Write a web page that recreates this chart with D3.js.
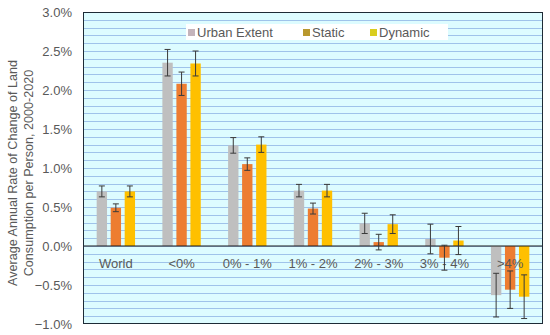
<!DOCTYPE html>
<html>
<head>
<meta charset="utf-8">
<script src="https://d3js.org/d3.v7.min.js"></script>
<style>
  body { margin: 0; background: #fff; }
  text { font-family: "Liberation Sans", Arial, sans-serif; fill: #595959; }
</style>
</head>
<body>
<script>
// data
var categories = ["World", "<0%", "0% - 1%", "1% - 2%", "2% - 3%", "3% - 4%", ">4%"];
var seriesNames = ["Urban Extent", "Static", "Dynamic"];
var urbanExtent = [0.70, 2.35, 1.29, 0.71, 0.29, 0.09, -0.63];
var urbanErr = [0.07, 0.17, 0.10, 0.08, 0.13, 0.19, 0.28];
var staticVals = [0.49, 2.08, 1.05, 0.48, 0.05, -0.15, -0.56];
var staticErr = [0.05, 0.15, 0.08, 0.07, 0.10, 0.16, 0.24];
var dynamicVals = [0.70, 2.34, 1.30, 0.71, 0.28, 0.07, -0.65];
var dynamicErr = [0.07, 0.16, 0.10, 0.08, 0.12, 0.18, 0.28];
var yTicks = [-1.0, -0.5, 0, 0.5, 1.0, 1.5, 2.0, 2.5, 3.0];

var barColors = ["#bfbfbf", "#ed7d31", "#ffc000"];
var swatchColors = ["#c4b4bb", "#b8982e", "#d9cd1e"];

var width = 550, height = 335;
var margin = {left: 83, right: 7, top: 12, bottom: 11};

var svg = d3.select("body").append("svg")
    .attr("width", width)
    .attr("height", height);

var x0 = d3.scaleBand()
    .domain(categories)
    .range([margin.left, width - margin.right])
    .padding(0);

var groupW = x0.bandwidth() * 0.584;
var x1 = d3.scaleBand()
    .domain(seriesNames)
    .range([0, groupW])
    .paddingInner(0.26);

var y = d3.scaleLinear()
    .domain([-1, 3])
    .range([height - margin.bottom, margin.top]);

// plot background
svg.append("rect")
    .attr("x", margin.left)
    .attr("y", margin.top)
    .attr("width", width - margin.left - margin.right)
    .attr("height", y(-1) - y(3))
    .attr("fill", "#ddfcff");

// minor gridlines every 0.1%
var grid = d3.range(-9, 30).map(function(d) { return d / 10; });
svg.append("g").selectAll("line")
    .data(grid)
    .enter().append("line")
    .attr("x1", margin.left)
    .attr("x2", width - margin.right)
    .attr("y1", function(d) { return Math.round(y(d)) + 0.5; })
    .attr("y2", function(d) { return Math.round(y(d)) + 0.5; })
    .attr("stroke", "#9fc3ea")
    .attr("stroke-width", 1);

// y axis labels
var yAxis = d3.axisLeft(y)
    .tickValues(yTicks)
    .tickSize(0)
    .tickPadding(11)
    .tickFormat(function(d) { return d3.format(".1f")(d) + "%"; });

svg.append("g")
    .attr("transform", "translate(" + margin.left + ",0)")
    .call(yAxis)
    .call(function(g) { g.select(".domain").remove(); })
    .selectAll("text")
    .style("font-size", "13px")
    .style("fill", "#595959");

// bars
var series = [
  {name: seriesNames[0], vals: urbanExtent, err: urbanErr},
  {name: seriesNames[1], vals: staticVals, err: staticErr},
  {name: seriesNames[2], vals: dynamicVals, err: dynamicErr}
];

var rows = [];
series.forEach(function(s, si) {
  categories.forEach(function(c, ci) {
    rows.push({cat: c, name: s.name, si: si, v: s.vals[ci], e: s.err[ci]});
  });
});

function bx(d) {
  return x0(d.cat) + (x0.bandwidth() - groupW) / 2 + x1(d.name);
}

svg.append("g").selectAll("rect")
    .data(rows)
    .enter().append("rect")
    .attr("x", bx)
    .attr("width", x1.bandwidth())
    .attr("y", function(d) { return y(Math.max(0, d.v)); })
    .attr("height", function(d) { return Math.abs(y(d.v) - y(0)); })
    .attr("fill", function(d) { return barColors[d.si]; });

// zero line
svg.append("line")
    .attr("x1", margin.left)
    .attr("x2", width - margin.right)
    .attr("y1", y(0))
    .attr("y2", y(0))
    .attr("stroke", "#1a1a1a")
    .attr("stroke-width", 1.2);

// category labels
svg.append("g").selectAll("text")
    .data(categories)
    .enter().append("text")
    .attr("x", function(d) { return x0(d) + x0.bandwidth() / 2; })
    .attr("y", y(0) + 22)
    .attr("text-anchor", "middle")
    .style("font-size", "13px")
    .text(function(d) { return d; });

// error bars
var eb = svg.append("g").selectAll("g")
    .data(rows)
    .enter().append("g")
    .attr("stroke", "#3a3a3a")
    .attr("stroke-width", 1);

eb.append("line")
    .attr("x1", function(d) { return bx(d) + x1.bandwidth() / 2; })
    .attr("x2", function(d) { return bx(d) + x1.bandwidth() / 2; })
    .attr("y1", function(d) { return y(d.v + d.e); })
    .attr("y2", function(d) { return y(d.v - d.e); });

[1, -1].forEach(function(sign) {
  eb.append("line")
    .attr("x1", function(d) { return bx(d) + x1.bandwidth() / 2 - 3; })
    .attr("x2", function(d) { return bx(d) + x1.bandwidth() / 2 + 3; })
    .attr("y1", function(d) { return y(d.v + sign * d.e); })
    .attr("y2", function(d) { return y(d.v + sign * d.e); });
});

// plot border
svg.append("rect")
    .attr("x", margin.left + 0.5)
    .attr("y", margin.top + 0.5)
    .attr("width", width - margin.left - margin.right - 1)
    .attr("height", y(-1) - y(3) - 1)
    .attr("fill", "none")
    .attr("stroke", "#1d2b36")
    .attr("stroke-width", 1);

// legend
svg.append("rect")
    .attr("x", 186)
    .attr("y", 24)
    .attr("width", 262)
    .attr("height", 16)
    .attr("fill", "#ffffff");

var legX = [188, 303, 370];
var legend = svg.append("g").selectAll("g")
    .data(seriesNames)
    .enter().append("g")
    .attr("transform", function(d, i) { return "translate(" + legX[i] + ",28)"; });

legend.append("rect")
    .attr("width", 7)
    .attr("height", 7)
    .attr("y", 1)
    .attr("fill", function(d, i) { return swatchColors[i]; });

legend.append("text")
    .attr("x", 9)
    .attr("y", 9)
    .style("font-size", "13px")
    .text(function(d) { return d; });

// y axis title
var title = svg.append("text")
    .attr("transform", "translate(20,173) rotate(-90)")
    .attr("text-anchor", "middle")
    .style("font-size", "12.6px");
title.append("tspan").attr("x", 0).attr("dy", "-0.2em").text("Average Annual Rate of Change of Land");
title.append("tspan").attr("x", 0).attr("dy", "1.2em").text("Consumption per Person, 2000-2020");
</script>
</body>
</html>
